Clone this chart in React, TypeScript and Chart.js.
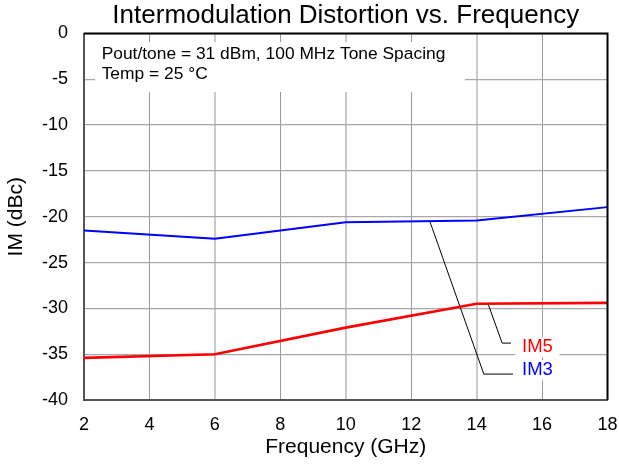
import React, { useEffect, useRef } from "react";
import { Chart, registerables } from "chart.js";

Chart.register(...registerables);

// ---- data ----
const frequencies = [2, 6, 10, 14, 18];
const im3Values = [-21.5, -22.4, -20.6, -20.4, -18.95];
const im5Values = [-35.4, -35.0, -32.1, -29.5, -29.4];
const xTickValues = [2, 4, 6, 8, 10, 12, 14, 16, 18];
const yTickValues = [0, -5, -10, -15, -20, -25, -30, -35, -40];
const im3LeaderX = [12.57, 14.22, 15.11];
const im3LeaderY = [-20.5, -37.17, -37.17];
const im5LeaderX = [14.35, 14.78, 15.05];
const im5LeaderY = [-29.5, -33.79, -33.79];
const seriesLabels = ["IM3", "IM5"];
const labelX = [15.86, 15.86];
const labelY = [-36.75, -34.24];
const noteLines = ["Pout/tone = 31 dBm, 100 MHz Tone Spacing", "Temp = 25 °C"];
const noteLineY = [-2.24, -4.42];
const noteX = 2.54;
const noteBoxX = [2.34, 13.64];
const noteBoxY = [-0.93, -6.39];

const FONT = "'Liberation Sans', Arial, Helvetica, sans-serif";
const BLUE = "#0000ff";
const RED = "#ff0000";

const annoPlugin = {
  id: "anno",
  beforeDatasetsDraw(chart: any) {
    const { ctx, scales } = chart;
    const x = scales.x;
    const y = scales.y;
    ctx.save();
    const bx0 = x.getPixelForValue(noteBoxX[0]);
    const bx1 = x.getPixelForValue(noteBoxX[1]);
    const by0 = y.getPixelForValue(noteBoxY[0]);
    const by1 = y.getPixelForValue(noteBoxY[1]);
    ctx.fillStyle = "#ffffff";
    ctx.fillRect(bx0, by0, bx1 - bx0, by1 - by0);
    ctx.fillStyle = "#000000";
    ctx.font = `17.4px ${FONT}`;
    ctx.textAlign = "left";
    ctx.textBaseline = "middle";
    noteLines.forEach((t, i) => {
      ctx.fillText(t, x.getPixelForValue(noteX), y.getPixelForValue(noteLineY[i]));
    });
    ctx.restore();
  },
  afterDatasetsDraw(chart: any) {
    const { ctx, scales, chartArea } = chart;
    const x = scales.x;
    const y = scales.y;
    ctx.save();
    ctx.font = `18.5px ${FONT}`;
    ctx.textAlign = "center";
    ctx.textBaseline = "middle";
    const colors = [BLUE, RED];
    seriesLabels.forEach((t, i) => {
      const px = x.getPixelForValue(labelX[i]);
      const py = y.getPixelForValue(labelY[i]);
      ctx.fillStyle = "#ffffff";
      ctx.fillRect(px - 22, py - 10, 44, 20);
      ctx.fillStyle = colors[i];
      ctx.fillText(t, px, py);
    });
    // top and right frame
    ctx.strokeStyle = "#000000";
    ctx.lineWidth = 2;
    ctx.beginPath();
    ctx.moveTo(chartArea.left, chartArea.top);
    ctx.lineTo(chartArea.right, chartArea.top);
    ctx.lineTo(chartArea.right, chartArea.bottom);
    ctx.stroke();
    ctx.restore();
  },
};

export default function App() {
  const ref = useRef<HTMLCanvasElement>(null);
  useEffect(() => {
    document.body.style.margin = "0";
    const canvas = ref.current;
    if (!canvas) return;
    Chart.defaults.font.family = FONT;
    Chart.defaults.color = "#000000";
    const chart = new Chart(canvas, {
      type: "line",
      data: {
        datasets: [
          {
            label: "IM3",
            data: frequencies.map((f, i) => ({ x: f, y: im3Values[i] })),
            borderColor: BLUE,
            borderWidth: 2,
            pointRadius: 0,
            tension: 0,
          },
          {
            label: "IM5",
            data: frequencies.map((f, i) => ({ x: f, y: im5Values[i] })),
            borderColor: RED,
            borderWidth: 2.6,
            pointRadius: 0,
            tension: 0,
          },
          {
            label: "IM3 leader",
            data: im3LeaderX.map((v, i) => ({ x: v, y: im3LeaderY[i] })),
            borderColor: "#000000",
            borderWidth: 1,
            pointRadius: 0,
            tension: 0,
          },
          {
            label: "IM5 leader",
            data: im5LeaderX.map((v, i) => ({ x: v, y: im5LeaderY[i] })),
            borderColor: "#000000",
            borderWidth: 1,
            pointRadius: 0,
            tension: 0,
          },
        ],
      },
      options: {
        responsive: false,
        animation: false,
        devicePixelRatio: 1,
        layout: { padding: { left: 0, right: 11.5, top: 0, bottom: 0 } },
        plugins: {
          legend: { display: false },
          tooltip: { enabled: false },
          title: {
            display: true,
            text: "Intermodulation Distortion vs. Frequency",
            fullSize: false,
            color: "#000000",
            font: { size: 26, weight: "normal", family: FONT },
            padding: { top: 0, bottom: 2.3 },
          },
        },
        scales: {
          x: {
            type: "linear",
            min: 2,
            max: 18,
            afterBuildTicks: (s: any) => {
              s.ticks = xTickValues.map((v) => ({ value: v }));
            },
            afterFit: (s: any) => {
              s.height = 65;
              s.paddingLeft = 0;
              s.paddingRight = 0;
            },
            ticks: {
              padding: 14,
              font: { size: 18 },
              color: "#000000",
              maxRotation: 0,
            },
            grid: {
              drawTicks: false,
              color: (c: any) =>
                [6, 10, 14].includes(c.tick?.value) ? "#cacaca" : "#9a9a9a",
              lineWidth: (c: any) => ([6, 10, 14].includes(c.tick?.value) ? 2 : 1),
            },
            border: { color: "#555555", width: 2 },
            title: {
              display: true,
              text: "Frequency (GHz)",
              font: { size: 21 },
              color: "#000000",
              padding: { top: 0, bottom: 5 },
            },
          },
          y: {
            type: "linear",
            min: -40,
            max: 0,
            afterBuildTicks: (s: any) => {
              s.ticks = yTickValues
                .slice()
                .sort((a, b) => a - b)
                .map((v) => ({ value: v }));
            },
            afterFit: (s: any) => {
              s.width = 84;
            },
            ticks: {
              padding: 16,
              font: { size: 18 },
              color: "#000000",
            },
            grid: {
              drawTicks: false,
              color: "#a8a8a8",
              lineWidth: 1.3,
            },
            border: { color: "#555555", width: 2 },
            title: {
              display: true,
              text: "IM (dBc)",
              font: { size: 21 },
              color: "#000000",
              padding: { top: 4, bottom: 0 },
            },
          },
        },
      },
      plugins: [annoPlugin],
    });
    return () => chart.destroy();
  }, []);
  return (
    <div style={{ width: 619, height: 465 }}>
      <canvas ref={ref} width={619} height={465} style={{ display: "block" }} />
    </div>
  );
}
